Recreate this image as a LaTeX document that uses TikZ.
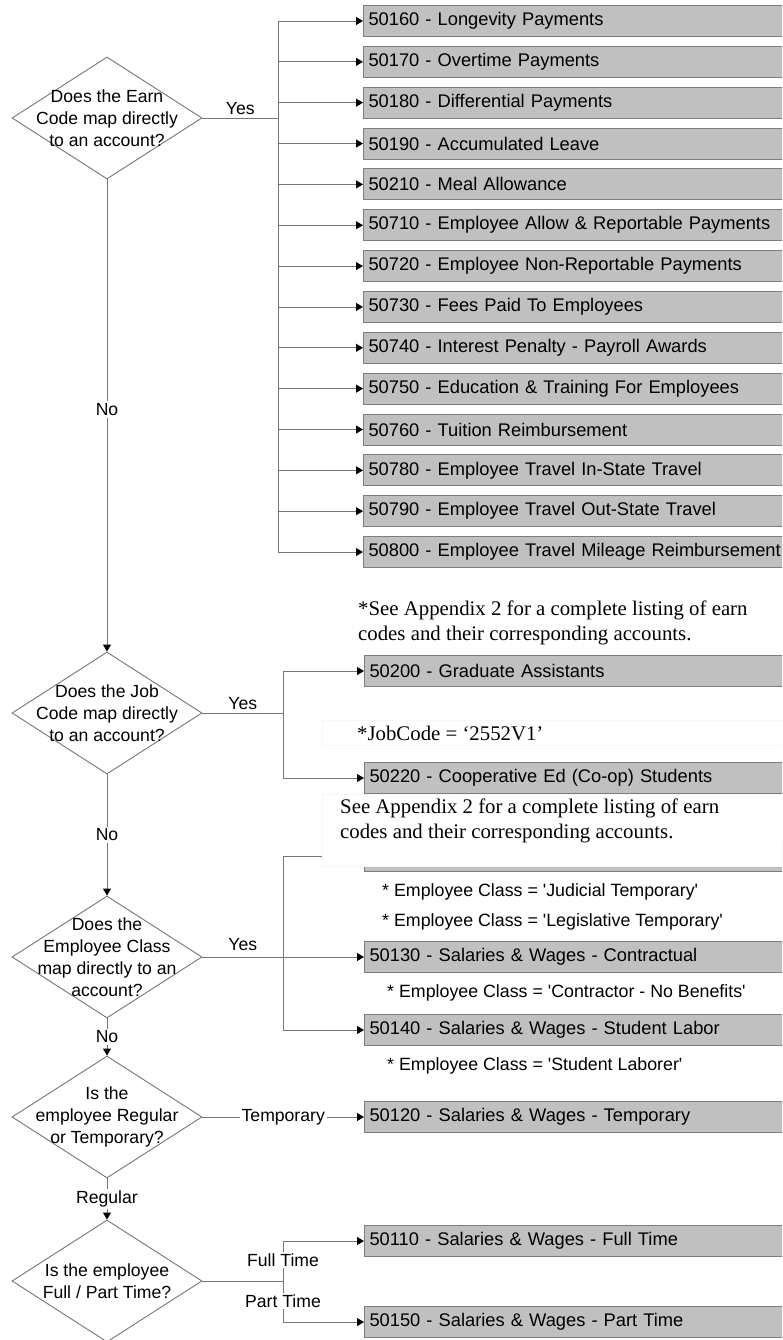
\documentclass[tikz,border=0pt]{standalone}
\usepackage{fontspec}
\setmainfont{Liberation Serif}
\newfontfamily\arialf{Liberation Sans}
\usetikzlibrary{shapes.geometric,arrows.meta}
\definecolor{linegray}{RGB}{118,118,118}
\definecolor{boxgray}{RGB}{192,192,192}
\definecolor{boxedge}{RGB}{125,125,125}
\begin{document}
\begin{tikzpicture}[x=1pt,y=-1pt,
  dec/.style={diamond, draw=linegray, fill=white, line width=0.9pt, minimum width=190pt, minimum height=122pt, inner sep=0pt},
  dtext/.style={align=center, font=\arialf\fontsize{17.6}{22}\selectfont, inner sep=0pt},
  acct/.style={rectangle, draw=boxedge, fill=boxgray, line width=1pt, minimum height=31pt, text width=440pt, inner xsep=5pt, inner ysep=0pt, anchor=west, align=left, font=\arialf\fontsize{18.3}{20}\selectfont},
  conn/.style={draw=linegray, line width=0.9pt},
  arr/.style={conn, -{Triangle[length=7pt,width=8pt,color=black]}},
  lbl/.style={font=\arialf\fontsize{17.6}{20}\selectfont, inner sep=2pt},
  wlbl/.style={lbl, fill=white},
  note/.style={font=\arialf\fontsize{17.8}{20}\selectfont, anchor=west, inner sep=0pt},
  tnote/.style={font=\fontsize{20.8}{25}\selectfont, anchor=west, align=left, inner sep=0pt},
  cover/.style={rectangle, fill=white, draw=black!3, line width=0.6pt, anchor=north west, inner sep=0pt},
]
\useasboundingbox (0,0) rectangle (782,1340);
\clip (0,0) rectangle (782,1340);

% ---------- decisions ----------
\node[dec] (d1) at (107,118) {};
\node[dtext] (d1t) at (d1) {Does the Earn\\Code map directly\\to an account?};
\node[dec] (d2) at (107,713) {};
\node[dtext] (d2t) at (d2) {Does the Job\\Code map directly\\to an account?};
\node[dec] (d3) at (107,957) {};
\node[dtext] (d3t) at (d3) {Does the\\Employee Class\\map directly to an\\account?};
\node[dec] (d4) at (107,1117) {};
\node[dtext] (d4t) at (d4) {Is the\\employee Regular\\or Temporary?};
\node[dec] (d5) at (107,1281) {};
\node[dtext] (d5t) at (d5) {Is the employee\\Full / Part Time?};

% ---------- earn code accounts ----------
\foreach \i/\t [count=\k from 0] in {
  1/50160 - Longevity Payments,
  2/50170 - Overtime Payments,
  3/50180 - Differential Payments,
  4/50190 - Accumulated Leave,
  5/50210 - Meal Allowance,
  6/50710 - Employee Allow \& Reportable Payments,
  7/50720 - Employee Non-Reportable Payments,
  8/50730 - Fees Paid To Employees,
  9/50740 - Interest Penalty - Payroll Awards,
  10/50750 - Education \& Training For Employees,
  11/50760 - Tuition Reimbursement,
  12/50780 - Employee Travel In-State Travel,
  13/50790 - Employee Travel Out-State Travel,
  14/50800 - Employee Travel Mileage Reimbursement}
  {\node[acct] (e\i) at (363,{21+40.85*\k}) {\t};}

\coordinate (j1) at (278,118);
\draw[conn] (d1.east) -- (j1) node[midway, above=1pt, lbl] {Yes};
\draw[conn] (j1 |- e1.west) -- (j1 |- e14.west);
\foreach \i in {1,...,14} {\draw[arr] (j1 |- e\i.west) -- (e\i.west);}

\node[tnote] (n1) at (358,622.5) {*See Appendix 2 for a complete listing of earn\\codes and their corresponding accounts.};

% ---------- job code ----------
\node[acct] (g1) at (364,671) {50200 - Graduate Assistants};
\node[acct] (g2) at (364,778) {50220 - Cooperative Ed (Co-op) Students};
\coordinate (j2) at (283,713);
\draw[conn] (d2.east) -- (j2) node[midway, above=1pt, lbl] {Yes};
\draw[conn] (j2 |- g1.west) -- (j2 |- g2.west);
\draw[arr] (j2 |- g1.west) -- (g1.west);
\draw[arr] (j2 |- g2.west) -- (g2.west);
\node[cover, minimum width=480pt, minimum height=25pt] (cv1) at (322,720) {};
\node[tnote] (n2) at (357,733) {*JobCode = ‘2552V1’};

% ---------- employee class ----------
\node[acct] (c0) at (364,856) {};
\node[acct] (c1) at (364,957) {50130 - Salaries \& Wages - Contractual};
\node[acct] (c2) at (364,1030) {50140 - Salaries \& Wages - Student Labor};
\coordinate (j3) at (283,957);
\draw[conn] (d3.east) -- (j3) node[midway, above=4pt, lbl] {Yes};
\draw[conn] (j3 |- c0.west) -- (j3 |- c2.west);
\draw[arr] (j3 |- c0.west) -- (c0.west);
\draw[arr] (j3 |- c1.west) -- (c1.west);
\draw[arr] (j3 |- c2.west) -- (c2.west);
\node[cover, minimum width=480pt, minimum height=72pt] (cv2) at (322,794) {};
\node[tnote] (n3) at (340,820.5) {See Appendix 2 for a complete listing of earn\\codes and their corresponding accounts.};
\node[note] (n4) at (382,892) {* Employee Class = \textquotesingle Judicial Temporary\textquotesingle};
\node[note] (n5) at (382,922) {* Employee Class = \textquotesingle Legislative Temporary\textquotesingle};
\node[note] (n6) at (387,993) {* Employee Class = \textquotesingle Contractor - No Benefits\textquotesingle};
\node[note] (n7) at (387,1066) {* Employee Class = \textquotesingle Student Laborer\textquotesingle};

% ---------- regular / temporary ----------
\node[acct] (t1) at (364,1117) {50120 - Salaries \& Wages - Temporary};
\draw[arr] (d4.east) -- (t1.west) node[midway, wlbl] {Temporary};

% ---------- full / part time ----------
\node[acct] (f1) at (364,1241) {50110 - Salaries \& Wages - Full Time};
\node[acct] (f2) at (364,1322) {50150 - Salaries \& Wages - Part Time};
\coordinate (j5) at (283,1281);
\draw[conn] (d5.east) -- (j5);
\draw[conn] (j5 |- f1.west) -- (j5 |- f2.west);
\draw[arr] (j5 |- f1.west) -- (f1.west);
\draw[arr] (j5 |- f2.west) -- (f2.west);
\node[wlbl] (lf) at (283,1260) {Full Time};
\node[wlbl] (lp) at (283,1301) {Part Time};

% ---------- main spine ----------
\draw[arr] (d1.south) -- (d2.north) node[pos=0.487, wlbl] {No};
\draw[arr] (d2.south) -- (d3.north) node[midway, wlbl] {No};
\draw[arr] (d3.south) -- (d4.north) node[midway, wlbl] {No};
\draw[arr] (d4.south) -- (d5.north) node[midway, wlbl] {Regular};
\end{tikzpicture}
\end{document}
